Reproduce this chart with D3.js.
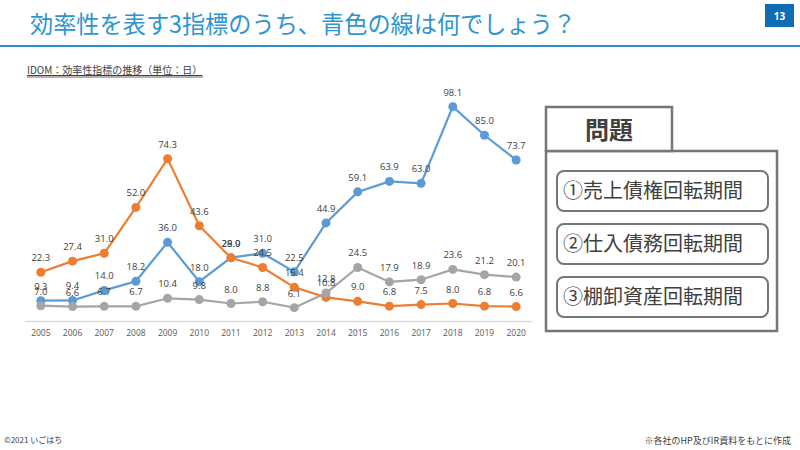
<!DOCTYPE html>
<html><head><meta charset="utf-8">
<script src="https://cdn.jsdelivr.net/npm/d3@7/dist/d3.min.js"></script>
<style>
html,body{margin:0;padding:0;background:#fff;}
svg{display:block;}
</style></head>
<body>
<svg id="c" width="800" height="450"></svg>
<script>
const years = ["2005","2006","2007","2008","2009","2010","2011","2012","2013","2014","2015","2016","2017","2018","2019","2020"];
const blueValues   = [9.3, 9.4, 14.0, 18.2, 36.0, 18.0, 29.0, 31.0, 22.5, 44.9, 59.1, 63.9, 63.0, 98.1, 85.0, 73.7];
const orangeValues = [22.3, 27.4, 31.0, 52.0, 74.3, 43.6, 28.9, 24.5, 15.4, 10.8, 9.0, 6.8, 7.5, 8.0, 6.8, 6.6];
const grayValues   = [7.0, 6.6, 6.7, 6.7, 10.4, 9.8, 8.0, 8.8, 6.1, 12.8, 24.5, 17.9, 18.9, 23.6, 21.2, 20.1];
const optionLabels = ["①売上債権回転期間", "②仕入債務回転期間", "③棚卸資産回転期間"];

const JP = "'Noto Sans CJK JP','Noto Sans',sans-serif";
const svg = d3.select("#c");

// Header
svg.append("text").attr("x", 30).attr("y", 33)
  .attr("font-family", JP).attr("font-size", 24).attr("fill", "#2E95CF")
  .attr("textLength", 546).attr("lengthAdjust", "spacingAndGlyphs")
  .text("効率性を表す3指標のうち、青色の線は何でしょう？");
svg.append("line").attr("x1", 0).attr("x2", 800).attr("y1", 46).attr("y2", 46)
  .attr("stroke", "#2A8EC8").attr("stroke-width", 2);
svg.append("rect").attr("x", 765).attr("y", 4).attr("width", 29).attr("height", 23).attr("fill", "#0E6DB5");
svg.append("text").attr("x", 779.5).attr("y", 19.5).attr("text-anchor", "middle")
  .attr("font-family", "'Open Sans',sans-serif").attr("font-weight", "bold").attr("font-size", 10).attr("fill", "#fff").text("13");

// Subtitle
svg.append("text").attr("x", 27).attr("y", 74)
  .attr("font-family", JP).attr("font-size", 10).attr("fill", "#404040")
  .attr("text-decoration", "underline")
  .text("IDOM：効率性指標の推移（単位：日）");
svg.append("line").attr("x1", 27).attr("x2", 203).attr("y1", 77).attr("y2", 77)
  .attr("stroke", "#404040").attr("stroke-width", 0.8);

// Chart scales
const x = d3.scaleBand().domain(years).range([25, 532]);
const cx = d => x(d) + x.bandwidth() / 2;
const y = d3.scaleLinear().domain([0, 100]).range([321, 102.5]);

// Axis
const xAxis = svg.append("g").attr("transform", "translate(0,321)")
  .call(d3.axisBottom(x).tickSize(0).tickPadding(9));
xAxis.select(".domain").attr("stroke", "#D9D9D9").attr("stroke-width", 1.5);
xAxis.selectAll("text").attr("font-family", "'Open Sans',sans-serif").attr("font-size", 8.5).attr("fill", "#595959");

const series = [
  {vals: blueValues, color: "#5B9BD5"},
  {vals: orangeValues, color: "#ED7D31"},
  {vals: grayValues, color: "#A5A5A5"}
];
const line = d3.line().x((d, i) => cx(years[i])).y(d => y(d));
series.forEach(s => {
  const g = svg.append("g");
  g.append("path").attr("d", line(s.vals)).attr("fill", "none")
    .attr("stroke", s.color).attr("stroke-width", 2.2);
  g.selectAll("circle").data(s.vals).join("circle")
    .attr("cx", (d, i) => cx(years[i])).attr("cy", d => y(d)).attr("r", 4.5)
    .attr("fill", s.color);
});
series.forEach(s => {
  svg.append("g").selectAll("text").data(s.vals).join("text")
    .attr("x", (d, i) => cx(years[i])).attr("y", d => y(d) - 11)
    .attr("text-anchor", "middle")
    .attr("font-family", "'Open Sans',sans-serif").attr("font-size", 9.5).attr("fill", "#404040")
    .text(d => d.toFixed(1));
});

// Quiz box
const qb = svg.append("g");
qb.append("rect").attr("x", 546).attr("y", 151).attr("width", 231).attr("height", 180)
  .attr("fill", "#fff").attr("stroke", "#767676").attr("stroke-width", 2.5);
qb.append("rect").attr("x", 546).attr("y", 107).attr("width", 126).attr("height", 44)
  .attr("fill", "#fff").attr("stroke", "#767676").attr("stroke-width", 2.5);
qb.append("text").attr("x", 609).attr("y", 139).attr("text-anchor", "middle")
  .attr("font-family", JP).attr("font-weight", "bold").attr("font-size", 24).attr("fill", "#404040")
  .text("問題");
const optY = [171, 224, 277];
optionLabels.forEach((t, i) => {
  qb.append("rect").attr("x", 557).attr("y", optY[i]).attr("width", 211).attr("height", 40)
    .attr("rx", 7).attr("fill", "#fff").attr("stroke", "#767676").attr("stroke-width", 2);
  qb.append("text").attr("x", 563).attr("y", optY[i] + 27)
    .attr("font-family", JP).attr("font-size", 20).attr("fill", "#404040")
    .text(t);
});

// Footer
svg.append("text").attr("x", 4).attr("y", 443)
  .attr("font-family", JP).attr("font-size", 8).attr("fill", "#404040").text("©2021 いごはち");
svg.append("text").attr("x", 791).attr("y", 444).attr("text-anchor", "end")
  .attr("font-family", JP).attr("font-size", 9).attr("fill", "#404040").text("※各社のHP及びIR資料をもとに作成");
</script>
</body></html>
